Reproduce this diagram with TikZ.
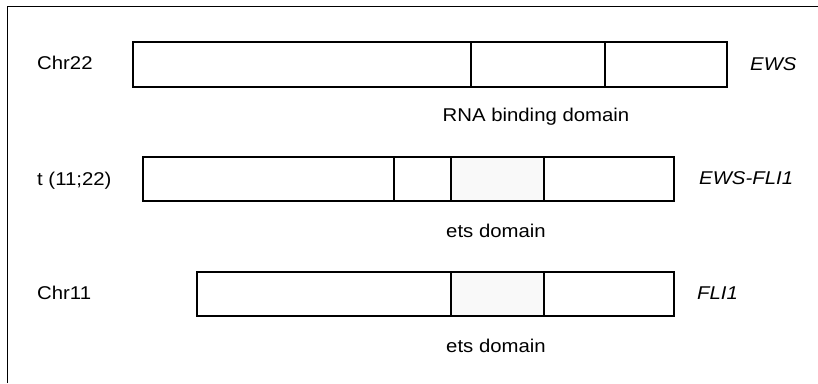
\documentclass[tikz,border=0pt]{standalone}
\usepackage{fontspec}
\setmainfont[FakeStretch=1.1]{Liberation Sans}
\begin{document}
\begin{tikzpicture}[x=1pt,y=-1pt,
    font=\fontsize{18.5}{21}\selectfont,
    seg/.style={draw,line width=1.3pt},
    ets/.style={fill=gray!5},
    lab/.style={anchor=base west,inner sep=0pt},
    gene/.style={anchor=base west,inner sep=0pt,font=\fontsize{18.5}{21}\selectfont\itshape},
    dom/.style={anchor=base,inner sep=0pt}]
  \useasboundingbox (0,0) rectangle (818,383);
  % frame
  \draw[line width=0.8pt] (7,383) -- (7,6) -- (818,6);
  % Chr22
  \draw[seg] (133,42) rectangle (727,87);
  \foreach \x in {471,605} \draw[seg] (\x,42) -- (\x,87);
  \node[lab] (chr22) at (37,69) {Chr22};
  \node[gene] (ews) at (750,70) {EWS};
  \node[dom] (rna) at (536,121) {RNA binding domain};
  % t(11;22)
  \fill[ets] (451,157) rectangle (544,201);
  \draw[seg] (143,157) rectangle (674,201);
  \foreach \x in {394,451,544} \draw[seg] (\x,157) -- (\x,201);
  \node[lab] (t1122) at (37,185) {t (11;22)};
  \node[gene] (ewsfli) at (699,184) {EWS-FLI1};
  \node[dom] (ets1) at (496,237) {ets domain};
  % Chr11
  \fill[ets] (451,272) rectangle (544,316);
  \draw[seg] (197,272) rectangle (674,316);
  \foreach \x in {451,544} \draw[seg] (\x,272) -- (\x,316);
  \node[lab] (chr11) at (37,299) {Chr11};
  \node[gene] (fli) at (697,299) {FLI1};
  \node[dom] (ets2) at (496,352) {ets domain};
\end{tikzpicture}
\end{document}
